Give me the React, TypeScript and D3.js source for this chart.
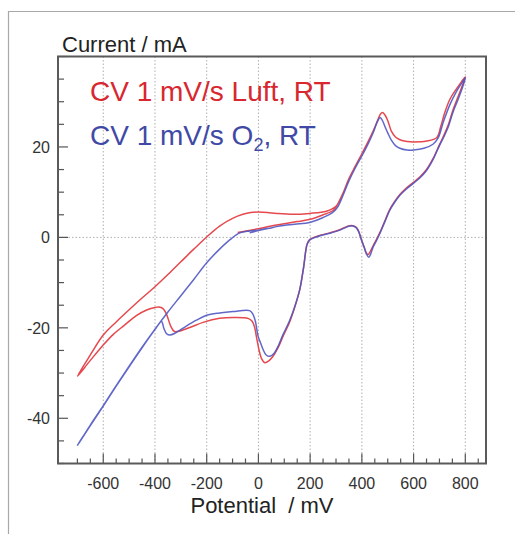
import React, { useEffect, useRef } from 'react';
import * as d3 from 'd3';

// tick labels
const potentialTicks = [-600, -400, -200, 0, 200, 400, 600, 800];
const currentTicks = [-40, -20, 0, 20];

// CV in air: [potential mV, current mA], start at OCP, one full cycle, back into the anodic wave
const luftTrace: [number, number][] = [
  [-80, 1.1], [-30, 1.6], [0, 1.9], [50, 2.5], [100, 3.0], [150, 3.5], [200, 4.0], [250, 5.0], [290, 6.0], [305, 7.2],
  [325, 9.5], [350, 13.0], [375, 15.8], [400, 18.5], [425, 21.3], [445, 23.7], [462, 26.0], [472, 27.3], [480, 27.6],
  [490, 27.0], [501, 25.7], [514, 23.5], [530, 22.2], [547, 21.6], [575, 21.2], [600, 21.1], [650, 21.3], [690, 22.1],
  [705, 24.5], [720, 27.5], [740, 30.5], [765, 32.8], [785, 34.4], [800, 35.5],
  [790, 33.8], [770, 30.8], [753, 28.3], [735, 25.0], [715, 22.3], [700, 20.5], [675, 17.4], [650, 15.0], [625, 13.4],
  [598, 12.1], [570, 10.8], [547, 9.5], [525, 7.8], [508, 6.2], [490, 3.8], [469, 1.0], [455, -0.6], [443, -1.9],
  [432, -3.2], [424, -3.8], [416, -3.3], [408, -2.0], [398, -0.4], [388, 1.3], [379, 2.2], [365, 2.6], [353, 2.6],
  [330, 2.1], [315, 1.7], [276, 1.0], [230, 0.3], [198, -0.5], [188, -1.5], [175, -6.5], [160, -11.5], [140, -15.5],
  [120, -18.8], [95, -21.9], [75, -24.5], [55, -26.4], [40, -27.3], [25, -27.7], [12, -26.8], [2, -24.8], [-8, -21.9],
  [-15, -19.8], [-25, -18.5], [-40, -17.9], [-98, -17.7], [-150, -17.9], [-214, -18.8], [-260, -19.8], [-304, -20.7],
  [-325, -20.8], [-340, -19.5], [-356, -16.9], [-370, -15.7], [-385, -15.4], [-400, -15.5], [-430, -16.0], [-472, -17.3],
  [-520, -19.5], [-562, -21.5], [-600, -23.8], [-650, -27.2], [-700, -30.7],
  [-650, -26.0], [-600, -21.6], [-550, -18.7], [-500, -16.0], [-450, -13.4], [-400, -10.9], [-350, -8.2], [-300, -5.4],
  [-250, -2.6], [-200, 0.1], [-150, 2.5], [-100, 4.2], [-60, 5.1], [-30, 5.5], [0, 5.6], [35, 5.5], [70, 5.3],
  [134, 5.1], [198, 5.3], [263, 5.8], [300, 6.9], [325, 9.5],
];

// CV under O2
const o2Trace: [number, number][] = [
  [-34, 1.0], [0, 1.5], [40, 2.0], [82, 2.5], [140, 2.9], [198, 3.3], [250, 4.4], [285, 5.4], [305, 6.6],
  [325, 9.0], [350, 12.5], [375, 15.4], [400, 18.0], [425, 20.8], [445, 23.3], [460, 25.6], [470, 26.5], [478, 26.0],
  [490, 24.4], [501, 23.0], [514, 21.5], [530, 20.3], [547, 19.7], [575, 19.3], [600, 19.3], [640, 19.7], [675, 20.6],
  [695, 22.0], [715, 25.5], [740, 29.3], [765, 32.2], [785, 34.0], [800, 35.3],
  [790, 33.3], [770, 30.2], [753, 27.8], [735, 24.6], [715, 22.0], [700, 20.3], [675, 17.2], [650, 14.8], [625, 13.2],
  [598, 11.9], [570, 10.6], [547, 9.3], [525, 7.6], [508, 6.0], [490, 3.6], [469, 0.8], [455, -0.9], [443, -2.2],
  [434, -3.7], [427, -4.4], [418, -3.7], [409, -2.2], [398, -0.5], [388, 1.2], [379, 2.1], [365, 2.5], [353, 2.5],
  [330, 2.0], [315, 1.6], [276, 0.9], [230, 0.2], [198, -0.6], [188, -1.6], [175, -6.5], [160, -11.5], [140, -15.4],
  [120, -18.5], [95, -21.5], [75, -24.2], [58, -25.8], [44, -26.3], [30, -26.0], [18, -24.8], [8, -23.3], [-1, -21.9],
  [-12, -18.5], [-21, -17.0], [-34, -16.2], [-98, -16.4], [-150, -16.7], [-200, -17.2], [-240, -18.3], [-279, -19.6],
  [-320, -21.1], [-343, -21.6], [-355, -21.3], [-365, -20.2], [-375, -18.6],
  [-400, -20.4], [-450, -24.4], [-500, -28.6], [-550, -32.9], [-600, -37.3], [-650, -41.6], [-700, -46.0],
  [-650, -41.5], [-600, -37.2], [-550, -32.8], [-500, -28.5], [-450, -24.3], [-400, -20.3], [-350, -16.5],
  [-300, -12.9], [-250, -9.3], [-200, -5.6], [-150, -2.6], [-110, -0.5], [-72, 1.0], [-34, 1.4], [0, 1.6], [40, 2.0],
];

const FONT = 'Liberation Sans, Arial, Helvetica, sans-serif';

export default function App() {
  const ref = useRef<SVGSVGElement>(null);

  useEffect(() => {
    const svg = d3.select(ref.current);
    svg.selectAll('*').remove();

    const left = 58, right = 486, top = 56.5, bottom = 463.5;
    const x = d3.scaleLinear().domain([-775, 880]).range([left, right]);
    const y = d3.scaleLinear().domain([-50, 40]).range([bottom, top]);

    // outer light frame
    svg.append('path')
      .attr('d', 'M8.5,534 V11.5 H515')
      .attr('fill', 'none')
      .attr('stroke', '#a8a8a8')
      .attr('stroke-width', 1.2);

    // grid
    const grid = svg.append('g').attr('stroke', '#9a9a9a').attr('stroke-width', 0.8)
      .attr('stroke-dasharray', '1.5,2');
    grid.selectAll('line.v').data(potentialTicks).enter().append('line')
      .attr('x1', d => x(d)).attr('x2', d => x(d))
      .attr('y1', top).attr('y2', bottom);
    grid.append('line')
      .attr('x1', left).attr('x2', right)
      .attr('y1', y(0)).attr('y2', y(0));

    // ticks, pointing inward
    const ticks = svg.append('g').attr('stroke', '#555').attr('stroke-width', 1.2);
    ticks.selectAll('line.xt').data(d3.range(-700, 851, 50)).enter().append('line')
      .attr('x1', d => x(d)).attr('x2', d => x(d))
      .attr('y1', bottom).attr('y2', d => bottom - (d % 200 === 0 ? 10 : 5));
    ticks.selectAll('line.yt').data(d3.range(-50, 41, 5)).enter().append('line')
      .attr('y1', d => y(d)).attr('y2', d => y(d))
      .attr('x1', left).attr('x2', d => left + (d % 20 === 0 ? 10 : 6));

    // traces
    const line = d3.line<[number, number]>()
      .x(d => x(d[0]))
      .y(d => y(d[1]))
      .curve(d3.curveCatmullRom.alpha(0.5));

    svg.append('path')
      .attr('d', line(luftTrace))
      .attr('fill', 'none')
      .attr('stroke', '#e5484d')
      .attr('stroke-width', 1.5)
      .attr('stroke-linejoin', 'round');
    svg.append('path')
      .attr('d', line(o2Trace))
      .attr('fill', 'none')
      .attr('stroke', '#5056c2')
      .attr('stroke-width', 1.5)
      .attr('stroke-opacity', 0.9)
      .attr('stroke-linejoin', 'round');

    // plot frame
    svg.append('rect')
      .attr('x', left).attr('y', top)
      .attr('width', right - left).attr('height', bottom - top)
      .attr('fill', 'none')
      .attr('stroke', '#5a5a5a')
      .attr('stroke-width', 2);

    // tick labels
    svg.append('g').selectAll('text').data(potentialTicks).enter().append('text')
      .attr('x', d => x(d))
      .attr('y', 489)
      .attr('text-anchor', 'middle')
      .attr('font-family', FONT)
      .attr('font-size', 16)
      .attr('fill', '#333')
      .text(d => String(d));
    svg.append('g').selectAll('text').data(currentTicks).enter().append('text')
      .attr('x', 50)
      .attr('y', d => y(d) + 6)
      .attr('text-anchor', 'end')
      .attr('font-family', FONT)
      .attr('font-size', 16)
      .attr('fill', '#333')
      .text(d => String(d));

    // axis titles
    svg.append('text')
      .attr('x', 62).attr('y', 52)
      .attr('font-family', FONT).attr('font-size', 22)
      .attr('fill', '#222')
      .text('Current / mA');
    svg.append('text')
      .attr('x', 262).attr('y', 513)
      .attr('text-anchor', 'middle')
      .attr('font-family', FONT).attr('font-size', 22)
      .attr('fill', '#222')
      .style('white-space', 'pre')
      .text('Potential  / mV');

    // legend labels
    svg.append('text')
      .attr('x', 90).attr('y', 101)
      .attr('font-family', FONT).attr('font-size', 28)
      .attr('fill', '#d8272f')
      .text('CV 1 mV/s Luft, RT');
    const o2 = svg.append('text')
      .attr('x', 90).attr('y', 145)
      .attr('font-family', FONT).attr('font-size', 28)
      .attr('fill', '#4149a6');
    o2.append('tspan').text('CV 1 mV/s O');
    o2.append('tspan').attr('font-size', 18).attr('dy', 6).text('2');
    o2.append('tspan').attr('dy', -6).text(', RT');
  }, []);

  return (
    <svg
      ref={ref}
      width={515}
      height={534}
      style={{ position: 'absolute', left: 0, top: 0, background: '#fff' }}
    />
  );
}
